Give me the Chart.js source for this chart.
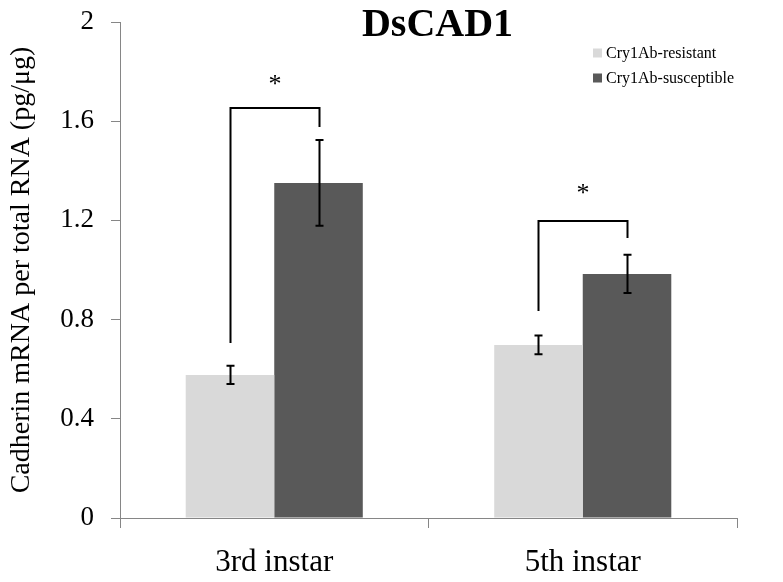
<!doctype html>
<html>
<head>
<meta charset="utf-8">
<title>DsCAD1</title>
<script src="https://cdn.jsdelivr.net/npm/chart.js@4/dist/chart.umd.min.js"></script>
<style>
  html, body { margin: 0; padding: 0; background: #fff; }
  #holder { width: 783px; height: 582px; }
</style>
</head>
<body>
<div id="holder"><canvas id="chart"></canvas></div>
<script>
  // data
  var categories = ['3rd instar', '5th instar'];
  var seriesNames = ['Cry1Ab-resistant', 'Cry1Ab-susceptible'];
  var resistant = [0.577, 0.698];
  var resistantErr = [0.037, 0.038];
  var susceptible = [1.351, 0.984];
  var susceptibleErr = [0.173, 0.077];
  // significance brackets (values on the y scale)
  var bracketTop = [1.653, 1.198];
  var bracketLeftEnd = [0.706, 0.835];
  var bracketRightEnd = [1.577, 1.129];
  var starLevel = [1.77, 1.33];
  var yTicks = [0, 0.4, 0.8, 1.2, 1.6, 2];

  var serif = '"Liberation Serif", "Times New Roman", serif';
  var axisGray = '#868686';

  var errorBars = {
    id: 'errorBars',
    afterDatasetsDraw: function(chart) {
      var ctx = chart.ctx;
      var y = chart.scales.y;
      var errs = [resistantErr, susceptibleErr];
      ctx.save();
      ctx.strokeStyle = '#000';
      ctx.lineWidth = 2;
      chart.data.datasets.forEach(function(ds, di) {
        var meta = chart.getDatasetMeta(di);
        meta.data.forEach(function(bar, i) {
          var v = ds.data[i], e = errs[di][i];
          var x = Math.round(bar.x) + 0.5;
          var top = y.getPixelForValue(v + e), bot = y.getPixelForValue(v - e);
          ctx.beginPath();
          ctx.moveTo(x, top); ctx.lineTo(x, bot);
          ctx.moveTo(x - 4, top); ctx.lineTo(x + 4, top);
          ctx.moveTo(x - 4, bot); ctx.lineTo(x + 4, bot);
          ctx.stroke();
        });
      });
      // brackets and stars
      var m0 = chart.getDatasetMeta(0), m1 = chart.getDatasetMeta(1);
      categories.forEach(function(c, i) {
        var xl = Math.round(m0.data[i].x) + 0.5, xr = Math.round(m1.data[i].x) + 0.5;
        var yt = y.getPixelForValue(bracketTop[i]);
        ctx.beginPath();
        ctx.moveTo(xl, y.getPixelForValue(bracketLeftEnd[i]));
        ctx.lineTo(xl, yt);
        ctx.lineTo(xr, yt);
        ctx.lineTo(xr, y.getPixelForValue(bracketRightEnd[i]));
        ctx.stroke();
        ctx.fillStyle = '#000';
        ctx.font = '26px ' + serif;
        ctx.textAlign = 'center';
        ctx.textBaseline = 'middle';
        ctx.fillText('*', (xl + xr) / 2, y.getPixelForValue(starLevel[i]) + 6);
      });
      ctx.restore();
    },
    afterDraw: function(chart) {
      var ctx = chart.ctx, area = chart.chartArea;
      ctx.save();
      // title
      ctx.fillStyle = '#000';
      ctx.font = 'bold 40px ' + serif;
      ctx.textAlign = 'center';
      ctx.textBaseline = 'middle';
      ctx.fillText('DsCAD1', (area.left + area.right) / 2 + 9, 26);
      // legend
      ctx.font = '16px ' + serif;
      ctx.textAlign = 'left';
      chart.data.datasets.forEach(function(ds, di) {
        var ly = area.top + 31 + di * 25;
        var lx = area.right - 144;
        ctx.fillStyle = ds.backgroundColor;
        ctx.fillRect(lx, ly - 4.5, 9, 9);
        ctx.fillStyle = '#000';
        ctx.fillText(ds.label, lx + 13, ly + 1);
      });
      ctx.restore();
    }
  };

  var ctx = document.getElementById('chart').getContext('2d');
  new Chart(ctx, {
    type: 'bar',
    data: {
      labels: categories,
      datasets: [
        { label: seriesNames[0], data: resistant, backgroundColor: '#D9D9D9' },
        { label: seriesNames[1], data: susceptible, backgroundColor: '#595959' }
      ]
    },
    options: {
      responsive: true,
      maintainAspectRatio: false,
      animation: false,
      layout: { autoPadding: false, padding: { left: 0, right: 46, top: 22, bottom: 0 } },
      datasets: { bar: { categoryPercentage: 0.574, barPercentage: 1 } },
      plugins: { legend: { display: false }, title: { display: false }, tooltip: { enabled: false } },
      scales: {
        x: {
          grid: { drawOnChartArea: false, offset: true, color: axisGray, tickLength: 10 },
          border: { color: axisGray, width: 1 },
          ticks: { color: '#000', font: { family: serif, size: 31 }, padding: 16 },
          afterFit: function(s) {
            s.height = 64;
            s.paddingLeft = 0; s.paddingRight = 0;
          }
        },
        y: {
          min: 0, max: 2,
          afterBuildTicks: function(s) { s.ticks = yTicks.map(function(v) { return { value: v }; }); },
          grid: { drawOnChartArea: false, color: axisGray, tickLength: 9 },
          border: { color: axisGray, width: 1 },
          ticks: {
            color: '#000', font: { family: serif, size: 27 }, padding: 17,
            callback: function(v) { return String(Math.round(v * 10) / 10); }
          },
          title: {
            display: true, text: 'Cadherin mRNA per total RNA (pg/μg)',
            color: '#000', font: { family: serif, size: 28 }, padding: { top: 5, bottom: 0 }
          },
          afterFit: function(s) {
            s.width = 120;
            s.paddingTop = 0; s.paddingBottom = 0;
          }
        }
      }
    },
    plugins: [errorBars]
  });
</script>
</body>
</html>
